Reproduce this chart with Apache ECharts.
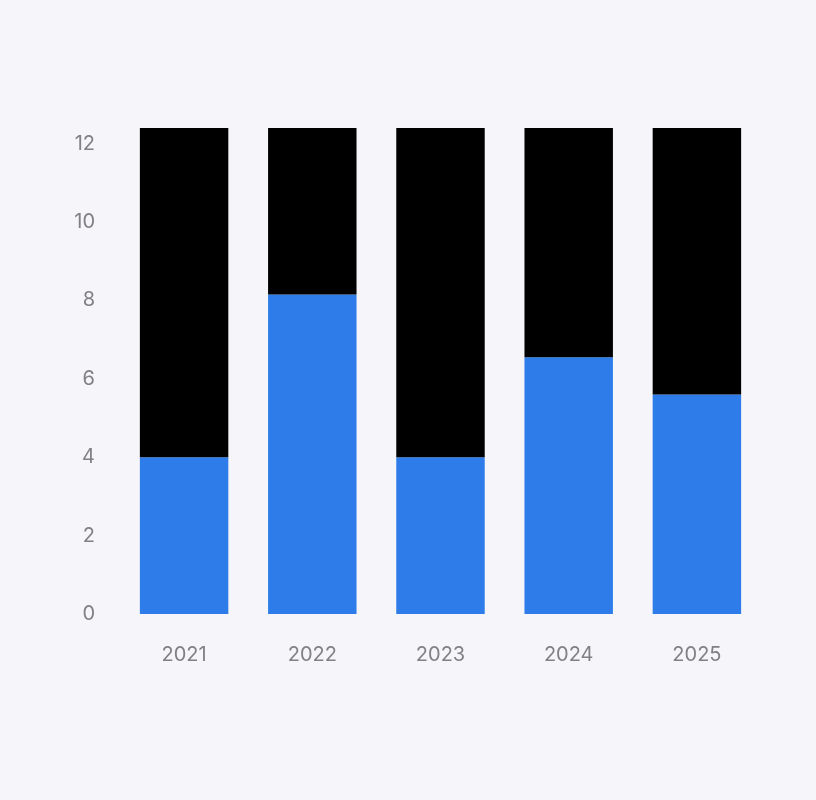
<!DOCTYPE html>
<html>
<head>
<meta charset="utf-8">
<style>
  html, body { margin: 0; padding: 0; background: #f6f6fa; }
  #chart { width: 816px; height: 800px; }
</style>
<script src="https://cdn.jsdelivr.net/npm/echarts@6/dist/echarts.min.js"></script>
</head>
<body>
<div id="chart"></div>
<script>
const years = ['2021', '2022', '2023', '2024', '2025']
const blueValues = [4, 8.15, 4, 6.55, 5.6]
const blackValues = [8.4, 4.25, 8.4, 5.85, 6.8]

const chart = echarts.init(document.getElementById('chart'))

chart.setOption({
  backgroundColor: '#f6f6fa',
  animation: false,
  textStyle: { fontFamily: 'Inter' },
  grid: {
    left: 120,
    right: 55,
    top: 128,
    bottom: 186
  },
  xAxis: {
    type: 'category',
    data: years,
    axisLine: { show: false },
    axisTick: { show: false },
    axisLabel: { color: '#808086', fontSize: 20, margin: 31 }
  },
  yAxis: {
    type: 'value',
    min: 0,
    max: 12.4,
    interval: 2,
    splitLine: { show: false },
    axisLine: { show: false },
    axisTick: { show: false },
    axisLabel: { color: '#808086', fontSize: 20, margin: 25, showMaxLabel: false }
  },
  series: [
    {
      type: 'bar',
      stack: 'total',
      barWidth: '69%',
      itemStyle: { color: '#2d7cea' },
      data: blueValues
    },
    {
      type: 'bar',
      stack: 'total',
      itemStyle: { color: '#000000' },
      data: blackValues
    }
  ]
})
</script>
</body>
</html>
